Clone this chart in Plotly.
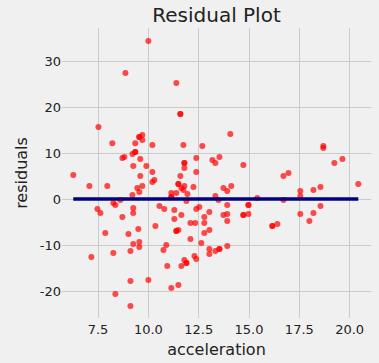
import plotly.graph_objects as go

acceleration = [
    10.0, 8.86, 11.39, 11.59, 11.59, 7.52, 9.70, 9.55, 9.55, 9.70,
    8.21, 9.35, 10.20, 11.74, 12.68, 9.35, 9.35, 9.21, 8.81, 8.71,
    9.60, 12.38, 13.18, 13.33, 13.53, 11.79, 11.79, 9.25, 9.90, 11.79,
    6.27, 9.60, 10.20, 11.59, 12.38, 10.30, 10.20, 7.07, 7.96, 9.70,
    9.45, 9.55, 11.49, 11.49, 11.79, 11.64, 12.24, 11.74, 11.94, 11.39,
    11.14, 9.21, 11.14, 11.14, 13.33, 14.07, 14.72, 13.73, 14.12, 13.92,
    15.41, 16.71, 16.96, 17.55, 17.55, 18.20, 18.55, 18.69, 18.69, 19.24,
    19.64, 20.43,
    8.26, 8.36, 8.61, 7.47, 7.62, 9.25, 9.25, 8.71, 10.55, 10.79,
    11.29, 11.89, 11.64, 11.29, 12.38, 12.53, 13.03, 12.78, 12.09, 12.33,
    12.78, 10.35, 9.50, 7.86, 9.01, 11.39, 11.39, 11.49, 13.03, 12.78,
    12.09, 12.63, 9.55, 9.25, 9.55, 10.89, 10.75, 9.11, 8.26, 7.17,
    13.03, 13.03, 13.33, 13.53, 13.53, 13.92, 11.79, 11.89, 11.89, 12.29,
    12.38, 11.64, 10.94, 10.0, 9.11, 11.49, 11.14, 8.36, 9.11, 13.92,
    13.73, 13.92, 13.92, 14.72, 14.72, 14.97, 14.97, 14.97, 16.16, 16.16,
    16.41, 17.55, 18.20, 18.00, 18.55, 16.71, 13.48,
]

residuals = [
    34.35, 27.39, 25.22, 18.48, 18.48, 15.65, 13.91, 13.48, 13.48, 12.83,
    12.17, 12.17, 11.74, 11.74, 11.52, 10.22, 10.22, 9.78, 9.13, 8.91,
    8.70, 8.91, 8.48, 7.83, 9.13, 7.83, 7.83, 7.17, 7.17, 6.74,
    5.22, 5.0, 5.87, 5.0, 5.87, 4.13, 3.70, 2.83, 2.83, 2.83,
    2.39, 1.52, 3.26, 3.26, 2.83, 2.39, 2.61, 1.96, 1.09, 1.30,
    1.30, 0.87, 0.43, 0.43, 0.65, 14.13, 7.39, 2.39, 2.83, 1.74,
    0.22, 5.0, 5.65, 1.74, 0.65, 1.96, 2.61, 11.52, 11.09, 7.83,
    8.70, 3.26,
    -0.87, -1.30, -0.22, -2.17, -3.04, -1.96, -3.04, -3.91, -1.52, -2.17,
    -2.39, -0.43, -3.48, -4.35, -2.17, -1.74, -2.83, -3.91, -5.22, -5.22,
    -5.22, -5.87, -6.52, -7.39, -7.61, -6.96, -6.96, -6.74, -6.74, -7.39,
    -8.70, -9.57, -9.35, -9.78, -10.43, -10.0, -11.09, -11.30, -11.74, -12.61,
    -10.87, -11.96, -11.30, -10.87, -10.87, -10.22, -13.26, -13.91, -13.91, -12.39,
    -13.04, -14.57, -14.57, -17.61, -17.83, -18.70, -19.35, -20.65, -23.26, -1.30,
    -3.48, -3.26, -4.78, -3.48, -3.48, -3.26, -1.30, -1.30, -5.87, -5.87,
    -5.43, -3.26, -3.04, -4.78, -1.52, -0.22, -0.22,
]

x_ticks = [7.5, 10.0, 12.5, 15.0, 17.5, 20.0]
y_ticks = [-20, -10, 0, 10, 20, 30]

FONT = "DejaVu Sans"
TXT = "#222222"

fig = go.Figure()
fig.add_trace(go.Scatter(
    x=acceleration, y=residuals, mode="markers",
    marker=dict(color="rgba(255,0,0,0.7)", size=6, line=dict(width=0)),
    showlegend=False, hoverinfo="skip",
))
fig.add_trace(go.Scatter(
    x=[min(acceleration), max(acceleration)], y=[0, 0], mode="lines",
    line=dict(color="navy", width=3.5),
    showlegend=False, hoverinfo="skip",
))

fig.update_layout(
    width=379, height=363,
    paper_bgcolor="#f0f0f0", plot_bgcolor="#f0f0f0",
    margin=dict(l=62, r=8, t=28, b=45, autoexpand=False),
    font=dict(family=FONT, size=13, color=TXT),
    title=dict(text="Residual Plot", x=216.5 / 379, xanchor="center",
               xref="container", yref="container",
               y=1 - 14.5 / 363, yanchor="middle", automargin=False,
               font=dict(family=FONT, size=20, color=TXT)),
    xaxis=dict(range=[5.71, 21.06], tickvals=x_ticks,
               ticktext=[f"{v:.1f}" for v in x_ticks],
               showgrid=True, gridcolor="#cbcbcb", gridwidth=1,
               zeroline=False, showline=False, ticks="", automargin=False,
               ticklabelstandoff=2,
               title=dict(text="acceleration", standoff=7,
                          font=dict(family=FONT, size=16, color=TXT))),
    yaxis=dict(range=[-25.85, 37.2], tickvals=y_ticks,
               ticktext=[str(v) for v in y_ticks],
               showgrid=True, gridcolor="#cbcbcb", gridwidth=1,
               zeroline=False, showline=False, ticks="", automargin=False,
               title=dict(text="residuals", standoff=8,
                          font=dict(family=FONT, size=16, color=TXT))),
)

fig.write_html(
    "out.html",
    config={"displayModeBar": False, "staticPlot": True},
    post_script="document.body.style.margin='0';document.body.style.background='#f0f0f0';",
)
